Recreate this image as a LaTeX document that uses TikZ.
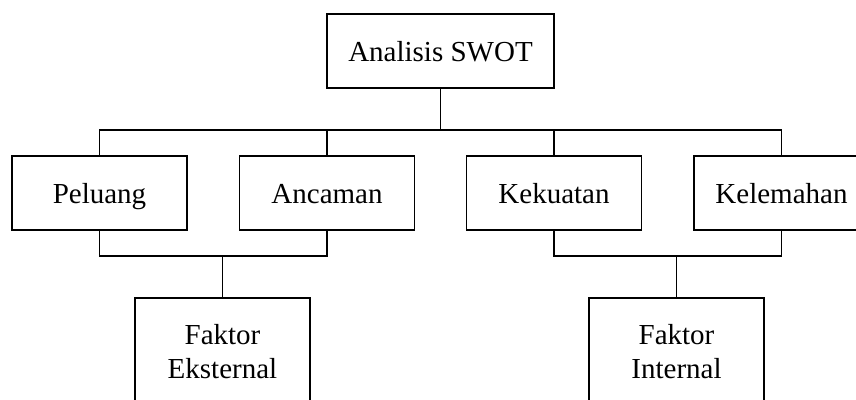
\documentclass[tikz,border=0pt]{standalone}
\usepackage{fontspec}
\setmainfont{Liberation Serif}
\begin{document}
\begin{tikzpicture}[x=1pt,y=1pt,
  box/.style={draw, line width=1.3pt, inner sep=0pt, align=center,
    font=\fontsize{29}{34}\selectfont, minimum width=175pt,
    text height=24pt, text depth=4pt},
  rowbox/.style={box, minimum height=74pt},
  lowbox/.style={box, minimum height=140pt},
  conn/.style={line width=1.3pt}]
\useasboundingbox (0,0) rectangle (856,-399);
\clip (0,0) rectangle (856,-399);
\node[box, minimum width=227pt, minimum height=74pt] (swot) at (440.5,-51) {Analisis SWOT};
\node[rowbox] (peluang) at (99.5,-193) {Peluang};
\node[rowbox] (ancaman) at (327,-193) {Ancaman};
\node[rowbox] (kekuatan) at (554,-193) {Kekuatan};
\node[rowbox] (kelemahan) at (781.5,-193) {Kelemahan};
\node[lowbox] (eks) at (222.5,-368) {Faktor\\Eksternal};
\node[lowbox] (int) at (676.5,-368) {Faktor\\Internal};
\coordinate (bus) at (0,-130);
\coordinate (lo) at (0,-256);
\draw[conn] (swot.south) -- (swot.south |- bus);
\draw[conn] (peluang.north) -- (peluang.north |- bus) -- (kelemahan.north |- bus) -- (kelemahan.north);
\draw[conn] (ancaman.north) -- (ancaman.north |- bus);
\draw[conn] (kekuatan.north) -- (kekuatan.north |- bus);
\draw[conn] (peluang.south) -- (peluang.south |- lo) -- (ancaman.south |- lo) -- (ancaman.south);
\draw[conn] (kekuatan.south) -- (kekuatan.south |- lo) -- (kelemahan.south |- lo) -- (kelemahan.south);
\draw[conn] (eks.north) -- (eks.north |- lo);
\draw[conn] (int.north) -- (int.north |- lo);
\end{tikzpicture}
\end{document}
